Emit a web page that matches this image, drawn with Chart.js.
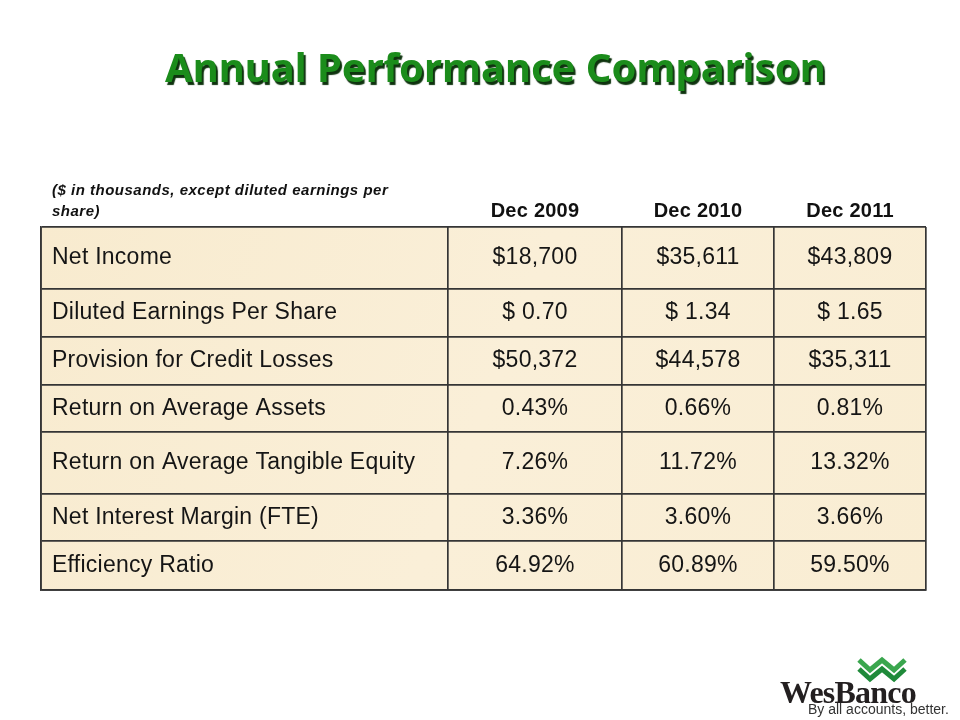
<!DOCTYPE html>
<html>
<head>
<meta charset="utf-8">
<title>Annual Performance Comparison</title>
<script src="https://cdn.jsdelivr.net/npm/chart.js@4.4.1/dist/chart.umd.min.js"></script>
<style>
  html, body { margin: 0; padding: 0; background: #fff; }
  #wrap { position: relative; width: 960px; height: 720px; overflow: hidden; }
  #tableChart { position: absolute; left: 0; top: 0; }
  .title {
    position: absolute; left: 165px; top: 47px;
    font: bold 40px "Noto Sans", sans-serif; line-height: 1;
    color: #1b8c1b; white-space: nowrap;
    text-shadow: 2px 3px 1px #0f330f;
  }
  .note {
    position: absolute; left: 52px; top: 179px;
    font: italic bold 15px "Liberation Sans", Arial, sans-serif;
    letter-spacing: 0.5px; line-height: 21px; color: #111;
  }
  .brand {
    position: absolute; left: 780px; top: 676px;
    font: bold 32px "Liberation Serif", "DejaVu Serif", serif; line-height: 1;
    letter-spacing: -0.8px; color: #231f20;
  }
  .tagline {
    position: absolute; left: 808px; top: 702px;
    font: 14px "Liberation Sans", Arial, sans-serif; line-height: 1; color: #333;
  }
  #mark { position: absolute; left: 857px; top: 655px; }
</style>
</head>
<body>
<div id="wrap">
  <canvas id="tableChart" width="960" height="720"></canvas>
  <div class="title">Annual Performance Comparison</div>
  <div class="note">($ in thousands, except diluted earnings per<br>share)</div>
  <div class="brand">WesBanco</div>
  <svg id="mark" width="50" height="30" viewBox="0 0 50 30">
    <polyline points="2,5 13,15 25,5 37,15 48,5" fill="none" stroke="#3aa64e" stroke-width="5" stroke-linejoin="miter"/>
    <polyline points="2,14 13,24 25,14 37,24 48,14" fill="none" stroke="#1f8a3a" stroke-width="5" stroke-linejoin="miter"/>
  </svg>
  <div class="tagline">By all accounts, better.</div>
</div>
<script>
// rows and columns of the table
const metrics = [
  "Net Income",
  "Diluted Earnings Per Share",
  "Provision for Credit Losses",
  "Return on Average Assets",
  "Return on Average Tangible Equity",
  "Net Interest Margin (FTE)",
  "Efficiency Ratio"
];
const periods = ["Dec 2009", "Dec 2010", "Dec 2011"];
const rowFormats = ["usd", "eps", "usd", "pct", "pct", "pct", "pct"];

const dec2009 = [18700, 0.70, 50372, 0.43, 7.26, 3.36, 64.92];
const dec2010 = [35611, 1.34, 44578, 0.66, 11.72, 3.60, 60.89];
const dec2011 = [43809, 1.65, 35311, 0.81, 13.32, 3.66, 59.50];
const periodValues = [dec2009, dec2010, dec2011];

// layout of the grid (scale units = px)
const colWidths = [407, 174, 152, 152];
const rowHeights = [62, 48, 48, 47, 62, 47, 49];

function edges(sizes) {
  const out = [0];
  sizes.forEach(s => out.push(out[out.length - 1] + s));
  return out;
}
const colEdges = edges(colWidths);
const rowEdges = edges(rowHeights);
const colCenters = colWidths.map((w, i) => colEdges[i] + w / 2);
const rowCenters = rowHeights.map((h, i) => rowEdges[i] + h / 2);
const tableW = colEdges[colEdges.length - 1];
const tableH = rowEdges[rowEdges.length - 1];

function fmt(v, kind) {
  if (kind === "usd") return "$" + v.toLocaleString("en-US");
  if (kind === "eps") return "$ " + v.toFixed(2);
  return v.toFixed(2) + "%";
}

const cells = [];
periodValues.forEach((vals, p) => {
  vals.forEach((v, r) => {
    cells.push({ x: colCenters[p + 1], y: rowCenters[r], text: fmt(v, rowFormats[r]) });
  });
});

const lineColor = "#353535";
const cellFont = { family: "'Liberation Sans', Arial, sans-serif", size: 23 };

const zeroHeight = scale => { scale.height = 0; };
const zeroWidth = scale => { scale.width = 0; };

const backdrop = {
  id: "backdrop",
  beforeDraw(chart) {
    const { ctx, chartArea: a } = chart;
    ctx.letterSpacing = "0.25px";
    ctx.save();
    const g = ctx.createLinearGradient(a.left, a.top, a.right, a.bottom);
    g.addColorStop(0, "#f8ebcf");
    g.addColorStop(0.5, "#faefd8");
    g.addColorStop(1, "#f9edd3");
    ctx.fillStyle = g;
    ctx.fillRect(a.left, a.top, a.right - a.left, a.bottom - a.top);
    ctx.restore();
  }
};

const cellText = {
  id: "cellText",
  afterDatasetsDraw(chart) {
    const { ctx } = chart;
    const meta = chart.getDatasetMeta(0);
    ctx.save();
    ctx.font = `${cellFont.size}px ${cellFont.family}`;
    ctx.fillStyle = "#151515";
    ctx.textAlign = "center";
    ctx.textBaseline = "middle";
    meta.data.forEach((pt, i) => {
      ctx.fillText(cells[i].text, pt.x, pt.y);
    });
    ctx.restore();
  }
};

new Chart(document.getElementById("tableChart"), {
  type: "scatter",
  data: {
    datasets: [{
      data: cells,
      pointRadius: 0,
      pointHoverRadius: 0,
      showLine: false
    }]
  },
  options: {
    responsive: false,
    animation: false,
    layout: { padding: { left: 41, top: 167, right: 34, bottom: 130 } },
    plugins: { legend: { display: false }, tooltip: { enabled: false } },
    events: [],
    scales: {
      x: {
        type: "linear", position: "bottom", min: 0, max: tableW,
        afterBuildTicks: s => { s.ticks = colEdges.map(v => ({ value: v })); },
        afterFit: zeroHeight,
        ticks: { display: false },
        grid: { color: lineColor, lineWidth: 1.7, drawTicks: false },
        border: { display: true, color: lineColor, width: 1.7 }
      },
      y: {
        type: "linear", position: "left", min: 0, max: tableH, reverse: true,
        afterBuildTicks: s => { s.ticks = rowEdges.map(v => ({ value: v })); },
        afterFit: zeroWidth,
        ticks: { display: false },
        grid: { color: lineColor, lineWidth: 1.7, drawTicks: false },
        border: { display: true, color: lineColor, width: 1.7 }
      },
      header: {
        type: "linear", position: "top", axis: "x", min: 0, max: tableW,
        afterBuildTicks: s => { s.ticks = colCenters.slice(1).map(v => ({ value: v })); },
        afterFit: scale => { scale.height = 60; },
        ticks: {
          autoSkip: false, maxRotation: 0, padding: 4, color: "#111",
          font: { family: "'Liberation Sans', Arial, sans-serif", size: 20, weight: "bold" },
          callback: (v, i) => periods[i]
        },
        grid: { display: false, drawTicks: false },
        border: { display: false }
      },
      rowLabels: {
        type: "linear", position: "left", axis: "y", min: 0, max: tableH, reverse: true,
        afterBuildTicks: s => { s.ticks = rowCenters.map(v => ({ value: v })); },
        afterFit: zeroWidth,
        ticks: {
          autoSkip: false, mirror: true, padding: 11, color: "#151515",
          font: cellFont,
          callback: (v, i) => metrics[i]
        },
        grid: { display: false },
        border: { display: false }
      }
    }
  },
  plugins: [backdrop, cellText]
});
</script>
</body>
</html>
